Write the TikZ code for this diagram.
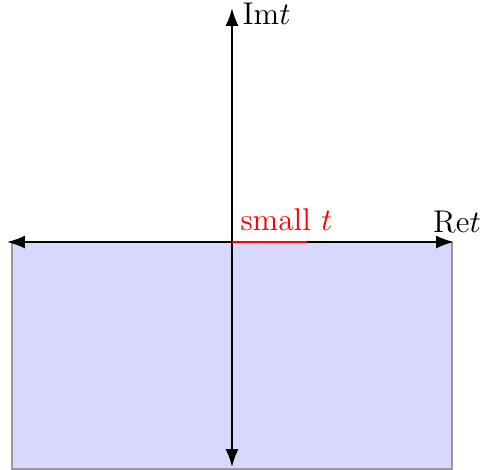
\documentclass[tikz,border=0pt]{standalone}
\usepackage{tikz}
\usepackage{amsmath}
\usepackage{xcolor}
\usetikzlibrary{arrows.meta,positioning}
\definecolor{region}{RGB}{216,216,255}
\definecolor{redline}{RGB}{255,0,0}

\begin{document}
\begin{tikzpicture}[x=0.35pt,y=0.35pt, font=\fontsize{11}{13}\selectfont,
  axis/.style={line width=0.7pt, {Latex[length=2.2mm,width=1.6mm]}-{Latex[length=2.2mm,width=1.6mm]}}]
\useasboundingbox (-232,-228) rectangle (248,242);
\fill[region] (-220,0) rectangle (220,-227);
\draw[gray!80, line width=0.5pt] (-220,0) |- (220,-227) -- (220,0);
\coordinate (o) at (0,0);
\coordinate (xl) at (-225,0);
\coordinate (xr) at (222,0);
\coordinate (yt) at (0,234);
\coordinate (yb) at (0,-225);
\coordinate (s) at (75,0);
\draw[axis] (xl)--(xr);
\draw[axis] (yb)--(yt);
\draw[redline, line width=1pt] (o)--(s);
\node[anchor=base west, text=redline, inner sep=0pt] (lab) at (8,12) {small $t$};
\node[anchor=base, inner sep=0pt] (re) at (225,9) {Re$t$};
\node[anchor=base west, inner sep=0pt] (im) at (10,218) {Im$t$};
\end{tikzpicture}
\end{document}
